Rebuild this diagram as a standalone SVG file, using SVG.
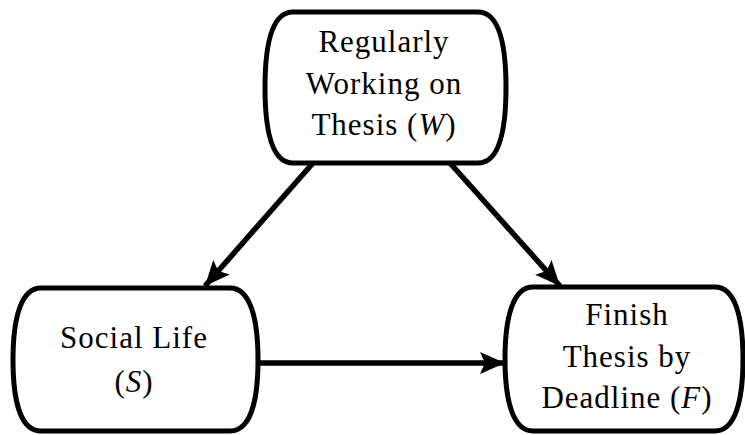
<svg xmlns="http://www.w3.org/2000/svg" width="745" height="435" viewBox="0 0 745 435">
<style>
.node{fill:#fff;stroke:#000;stroke-width:5}
.edge{stroke:#000;stroke-width:5.5;fill:none}
</style>
<defs>
<marker id="ah" markerUnits="userSpaceOnUse" markerWidth="27" markerHeight="22" refX="25" refY="11" orient="auto">
<path d="M0,0 L25,11 L0,22 L5,11 Z" fill="#000"/>
</marker>
</defs>
<g id="connectors">
<line class="edge" x1="313" y1="163" x2="205" y2="286" marker-end="url(#ah)"/>
<line class="edge" x1="450" y1="163" x2="560" y2="286" marker-end="url(#ah)"/>
<line class="edge" x1="258" y1="363" x2="505" y2="363" marker-end="url(#ah)"/>
</g>
<g id="node-W">
<path class="node" d="M293,12 L478,12 C498,12 506,42 506,87.5 C506,133 498,163 478,163 L293,163 C273,163 265,133 265,87.5 C265,42 273,12 293,12 Z"/>
<text x="384" y="52" style="font-family:'Liberation Serif';font-size:31px;letter-spacing:1px;text-anchor:middle">Regularly</text>
<text x="384" y="94" style="font-family:'Liberation Serif';font-size:31px;letter-spacing:1px;text-anchor:middle">Working on</text>
<text x="384" y="135" style="font-family:'Liberation Serif';font-size:31px;letter-spacing:1px;text-anchor:middle">Thesis (<tspan style="font-style:italic">W</tspan>)</text>
</g>
<g id="node-S">
<path class="node" d="M41,288 L230,288 C250,288 258,318 258,360 C258,402 250,431 230,431 L41,431 C21,431 13,402 13,360 C13,318 21,288 41,288 Z"/>
<text x="134" y="348" style="font-family:'Liberation Serif';font-size:31px;letter-spacing:1px;text-anchor:middle">Social Life</text>
<text x="134" y="392" style="font-family:'Liberation Serif';font-size:31px;letter-spacing:1px;text-anchor:middle">(<tspan style="font-style:italic">S</tspan>)</text>
</g>
<g id="node-F">
<path class="node" d="M533,287 L715,287 C735,287 743,317 743,359 C743,401 735,431 715,431 L533,431 C513,431 505,401 505,359 C505,317 513,287 533,287 Z"/>
<text x="627" y="325" style="font-family:'Liberation Serif';font-size:31px;letter-spacing:1px;text-anchor:middle">Finish</text>
<text x="627" y="367" style="font-family:'Liberation Serif';font-size:31px;letter-spacing:1px;text-anchor:middle">Thesis by</text>
<text x="627" y="408" style="font-family:'Liberation Serif';font-size:31px;letter-spacing:1px;text-anchor:middle">Deadline (<tspan style="font-style:italic">F</tspan>)</text>
</g>
</svg>
